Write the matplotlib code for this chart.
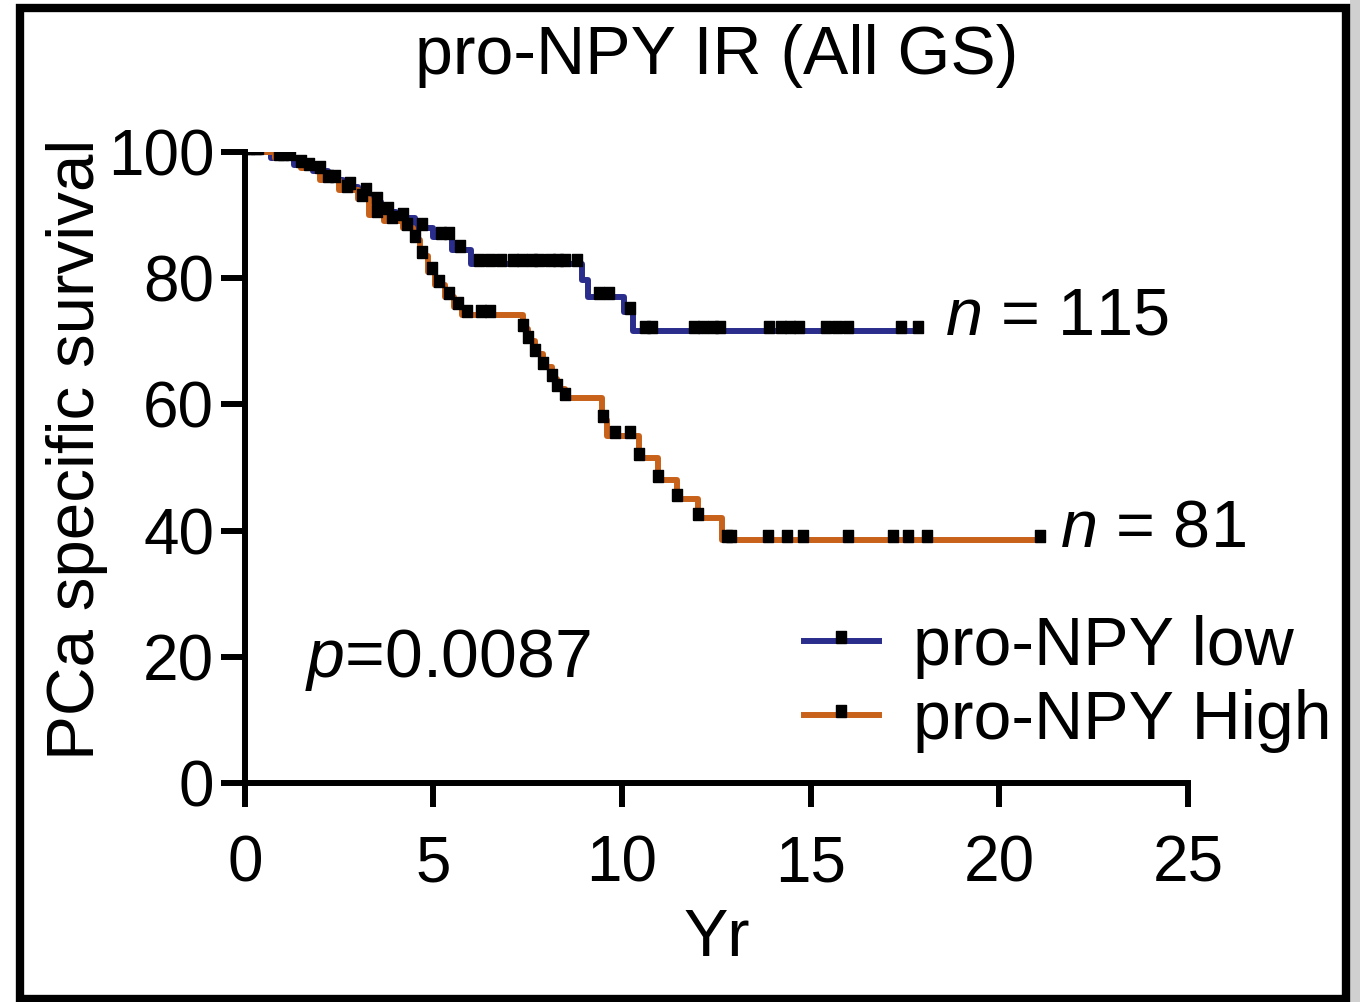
import numpy as np
import matplotlib.pyplot as plt
from matplotlib.lines import Line2D
from matplotlib.patches import Rectangle
from matplotlib.path import Path

plt.rcParams['font.family'] = ['Liberation Sans', 'DejaVu Sans']
plt.rcParams['mathtext.fontset'] = 'custom'
plt.rcParams['mathtext.rm'] = 'Liberation Sans'
plt.rcParams['mathtext.it'] = 'Liberation Sans:italic'

# Kaplan-Meier steps (years, % survival)
low_times = [0, 0.7, 1.3, 1.8, 2.2, 2.6, 3.0, 3.3, 3.6, 4.0, 4.5, 5.0, 5.5, 6.0, 8.95, 9.1, 10.05, 10.3]
low_surv = [100, 99, 98, 97, 95.5, 94.5, 93.5, 92, 90.5, 89.5, 88, 86.5, 84.5, 82.3, 79.7, 77, 74.6, 71.6]
low_end = 17.9
low_censor = [0.1, 0.35, 0.9, 1.2, 1.5, 2.0, 2.4, 2.8, 3.2, 3.5, 3.8, 4.2, 4.7, 5.2, 5.4, 5.7,
              6.2, 6.5, 6.8, 7.1, 7.35, 7.6, 7.8, 8.1, 8.3, 8.5, 8.8, 9.4, 9.65, 10.2,
              10.6, 10.8, 11.9, 12.15, 12.4, 12.6, 13.9, 14.2, 14.45, 14.7, 15.4, 15.7, 16.0, 17.4, 17.85]

high_times = [0, 0.8, 1.5, 2.0, 2.5, 3.0, 3.3, 3.7, 4.2, 4.45, 4.65, 4.85, 5.05, 5.3, 5.55, 5.75,
              7.37, 7.5, 7.69, 7.9, 8.14, 8.27, 8.48, 9.46, 9.6, 10.45, 10.95, 11.45, 12.0, 12.65]
high_surv = [100, 99, 97.5, 95.5, 94, 92.5, 90, 89, 88, 86, 83.5, 81, 79, 77, 75.5, 74.2,
             72, 70, 68, 66, 64, 62.5, 61, 57.5, 55, 51.5, 48, 45, 42, 38.5]
high_end = 21.1
high_censor = [0.05, 0.3, 1.0, 1.7, 2.2, 2.7, 3.1, 3.5, 3.9, 4.3, 4.5, 4.7, 4.95, 5.15, 5.4, 5.65,
               5.9, 6.25, 6.5, 7.37, 7.5, 7.69, 7.9, 8.14, 8.27, 8.48, 9.5, 9.8, 10.2, 10.45,
               10.95, 11.45, 12.0, 12.78, 12.9, 13.87, 14.37, 14.79, 15.99, 17.18, 17.58, 18.08, 21.08]

blue = '#2b2d8c'
orange = '#c8621b'

# censor tick sitting on top of the line
tick = Path([(-0.45, -0.2), (0.45, -0.2), (0.45, 1.0), (-0.45, 1.0), (-0.45, -0.2)])


def km_curve(ax, times, surv, end, censor, color):
    t = list(times) + [end]
    s = list(surv) + [surv[-1]]
    ax.step(t, s, where='post', color=color, lw=4.3, solid_capstyle='butt', zorder=2)
    idx = np.searchsorted(times, censor, side='right') - 1
    cy = np.array(surv)[idx]
    ax.plot(censor, cy, ls='none', marker=tick, ms=15, color='black', zorder=3)


fig = plt.figure(figsize=(13.6, 10.02), dpi=100)
ax = fig.add_axes([0.180, 0.2186, 0.6935, 0.6297])

km_curve(ax, low_times, low_surv, low_end, low_censor, blue)
km_curve(ax, high_times, high_surv, high_end, high_censor, orange)

ax.set_xlim(0, 25)
ax.set_ylim(0, 100)
ax.set_xticks([0, 5, 10, 15, 20, 25])
ax.set_yticks([0, 20, 40, 60, 80, 100])
for s in ['top', 'right']:
    ax.spines[s].set_visible(False)
for s in ['left', 'bottom']:
    ax.spines[s].set_linewidth(4.3)
ax.tick_params(direction='out', length=17, width=4.3, labelsize=46)
ax.tick_params(axis='x', pad=20)
ax.tick_params(axis='y', pad=5)

ax.set_xlabel('Yr', fontsize=48, labelpad=10)
ax.set_ylabel('PCa specific survival', fontsize=48.5)
ax.yaxis.set_label_coords(-0.145, 0.528)
ax.set_title('pro-NPY IR (All GS)', fontsize=49, pad=56)

ax.text(18.55, low_surv[-1] + 2.1, r'$\it{n}$ = 115', fontsize=48, va='center', ha='left')
ax.text(21.6, high_surv[-1] + 1.6, r'$\it{n}$ = 81', fontsize=48, va='center', ha='left')
ax.text(1.6, 19.5, r'$\it{p}$=0.0087', fontsize=49, va='center', ha='left')

handles = [Line2D([], [], color=blue, lw=4.3, marker=tick, ms=15, mfc='black', mec='black'),
           Line2D([], [], color=orange, lw=4.3, marker=tick, ms=15, mfc='black', mec='black')]
ax.legend(handles, ['pro-NPY low', 'pro-NPY High'], loc='upper left',
          bbox_to_anchor=(0.591, 0.386), bbox_transform=fig.transFigure,
          frameon=False, fontsize=49, numpoints=1, handlelength=1.1,
          handletextpad=0.5, borderpad=0, borderaxespad=0, labelspacing=0.14)

# black frame around the panel
fig.patches.append(Rectangle((20 / 1360, 3 / 1002), 1326 / 1360, 991 / 1002,
                             transform=fig.transFigure, fill=False,
                             lw=6, edgecolor='black', zorder=10))
fig.patches.append(Rectangle((1350 / 1360, 0), 10 / 1360, 1,
                             transform=fig.transFigure, color='#d0d0d0', lw=0, zorder=9))

fig.savefig('out.png', dpi=100)
